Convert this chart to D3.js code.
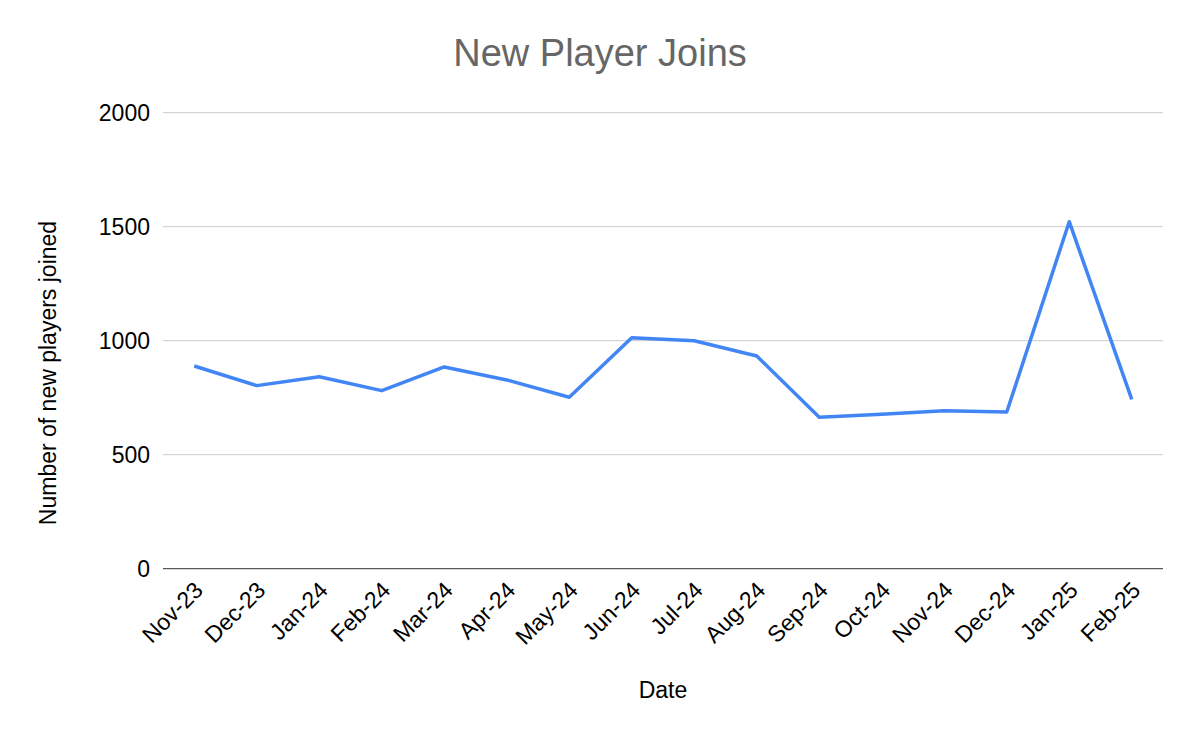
<!DOCTYPE html>
<html>
<head>
<meta charset="utf-8">
<script src="https://cdn.jsdelivr.net/npm/d3@7"></script>
<style>
  html, body { margin: 0; padding: 0; background: #fff; }
  svg { display: block; font-family: "Liberation Sans", Arial, sans-serif; }
</style>
</head>
<body>
<svg id="chart" width="1200" height="742"></svg>
<script>
const categories = ["Nov-23","Dec-23","Jan-24","Feb-24","Mar-24","Apr-24","May-24","Jun-24","Jul-24","Aug-24","Sep-24","Oct-24","Nov-24","Dec-24","Jan-25","Feb-25"];
const newPlayers = [889, 803, 842, 781, 885, 828, 752, 1013, 1000, 933, 664, 677, 693, 687, 1522, 743];
const yTicks = [0, 500, 1000, 1500, 2000];
const title = "New Player Joins";
const xTitle = "Date";
const yTitle = "Number of new players joined";

const svg = d3.select("#chart");
const m = { left: 163, right: 1163, top: 112.7, bottom: 568.7 };
const FS = 23;

const x = d3.scaleBand().domain(categories).range([m.left, m.right]).padding(0);
const y = d3.scaleLinear().domain([0, 2000]).range([m.bottom, m.top]);

// gridlines
svg.append("g").selectAll("line").data(yTicks.filter(d => d !== 0)).join("line")
  .attr("x1", m.left).attr("x2", m.right)
  .attr("y1", d => y(d)).attr("y2", d => y(d))
  .attr("stroke", "#cccccc").attr("stroke-width", 1);

// baseline
svg.append("line")
  .attr("x1", m.left).attr("x2", m.right)
  .attr("y1", y(0)).attr("y2", y(0))
  .attr("stroke", "#333333").attr("stroke-width", 1);

// y axis labels
const yAxis = d3.axisLeft(y).tickValues(yTicks).tickSize(0).tickPadding(0).tickFormat(d3.format("d"));
const gy = svg.append("g").attr("transform", `translate(${m.left - 13},0)`).call(yAxis);
gy.select(".domain").remove();
gy.selectAll("text").attr("font-size", FS).attr("fill", "#000")
  .attr("font-family", "Liberation Sans, Arial, sans-serif");

// x axis labels
const xAxis = d3.axisBottom(x).tickSize(0).tickPadding(0);
const gx = svg.append("g").attr("transform", `translate(0,${m.bottom})`).call(xAxis);
gx.select(".domain").remove();
gx.selectAll("text")
  .attr("font-size", FS).attr("fill", "#000")
  .attr("font-family", "Liberation Sans, Arial, sans-serif")
  .attr("text-anchor", "end")
  .attr("dy", null).attr("y", 0)
  .attr("transform", "translate(10,23) rotate(-45)");

// line
const line = d3.line().x((d, i) => x(categories[i]) + x.bandwidth() / 2).y(d => y(d));
svg.append("path").datum(newPlayers)
  .attr("d", line)
  .attr("fill", "none")
  .attr("stroke", "#4285F4")
  .attr("stroke-width", 3.5)
  .attr("stroke-linejoin", "round");

// title
svg.append("text").attr("x", 600).attr("y", 66).attr("text-anchor", "middle")
  .attr("font-size", 38).attr("fill", "#666666").text(title);

// axis titles
svg.append("text").attr("x", 663).attr("y", 698).attr("text-anchor", "middle")
  .attr("font-size", FS).attr("fill", "#000").text(xTitle);

svg.append("text").attr("transform", `translate(56,373) rotate(-90)`).attr("text-anchor", "middle")
  .attr("font-size", FS).attr("fill", "#000").text(yTitle);
</script>
</body>
</html>
